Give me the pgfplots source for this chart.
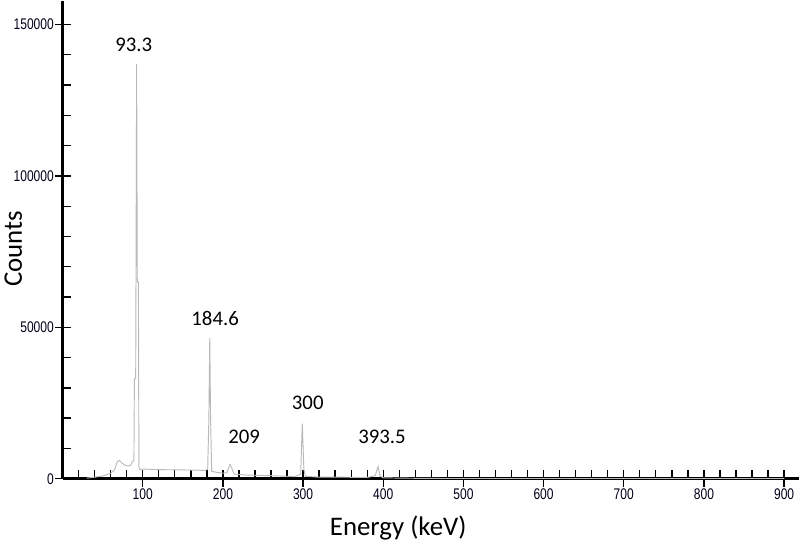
\documentclass[border=0pt]{standalone}
\usepackage{pgfplots}
\pgfplotsset{compat=1.18}
\usepackage{fontspec}
\setmainfont{Carlito}
\newfontfamily\narrowfont[FakeStretch=0.78]{Liberation Sans}
\definecolor{spec}{RGB}{185,185,185}

\begin{document}
\begin{tikzpicture}
\begin{axis}[
    scale only axis,
    width=549pt, height=356pt,
    xmin=0, xmax=918,
    ymin=0, ymax=157600,
    axis x line=bottom, axis y line=left,
    axis line style={-, line width=2.2pt},
    xtick={100,200,...,900},
    minor xtick={20,40,...,900},
    ytick={0,50000,100000,150000},
    minor ytick={10000,20000,...,150000},
    tick align=inside,
    major tick length=6.5pt, minor tick length=6.5pt,
    tick style={black, line width=1pt},
    extra x ticks={100,200,...,900},
    extra x tick labels={},
    extra x tick style={tick align=outside, major tick length=6pt},
    extra y ticks={0,50000,100000,150000},
    extra y tick labels={},
    extra y tick style={tick align=outside, major tick length=5.5pt},
    scaled y ticks=false,
    /pgf/number format/.cd, fixed, set thousands separator={}, assume math mode=true,
    /pgfplots/.cd,
    ticklabel style={font=\narrowfont\fontsize{11.5}{12}\selectfont, text=black!90!blue},
    xticklabel style={yshift=-4pt},
    yticklabel style={xshift=-3pt},
    xlabel={Energy (keV)}, ylabel={Counts},
    label style={font=\fontsize{20}{22}\selectfont},
    xlabel style={at={(axis description cs:0.456,-0.103)}, anchor=center},
    ylabel style={at={(axis description cs:-0.067,0.482)}, anchor=center},
]
\addplot[spec, line width=0.7pt] coordinates {
(30,200) (40,500) (50,900) (60,1800) (65,3000) (68,5500) (71,6000) (74,5200)
(78,4400) (82,4200) (85,4500) (87,5500) (89,6000) (89.6,33000) (91.2,33000)
(92.4,137000) (93.2,65000) (94.6,65000) (95.2,4000) (96,3000) (100,3200)
(120,3000) (150,2900) (170,2800) (178,2700) (181,3200) (182.5,20000)
(183.6,46500) (184.6,20000) (186,2500) (190,2200) (200,1800) (205,2000)
(207,3500) (209,4700) (211,3500) (214,1500) (230,1200) (260,1000) (290,700)
(297,1500) (299,18200) (301,3000) (303,800) (320,500) (350,500) (380,400)
(390,1000) (393.5,4000) (396,800) (400,300) (420,200) (450,100) (500,50)
(600,30) (700,20) (800,10) (900,10)
};
\node[font=\fontsize{15.5}{17}\selectfont] at (axis cs:88.7,143300) {93.3};
\node[font=\fontsize{15.5}{17}\selectfont] at (axis cs:190.3,52750) {184.6};
\node[font=\fontsize{15.5}{17}\selectfont] at (axis cs:226.5,13900) {209};
\node[font=\fontsize{15.5}{17}\selectfont] at (axis cs:305.8,24900) {300};
\node[font=\fontsize{15.5}{17}\selectfont] at (axis cs:398.4,13900) {393.5};
\end{axis}
\end{tikzpicture}
\end{document}
